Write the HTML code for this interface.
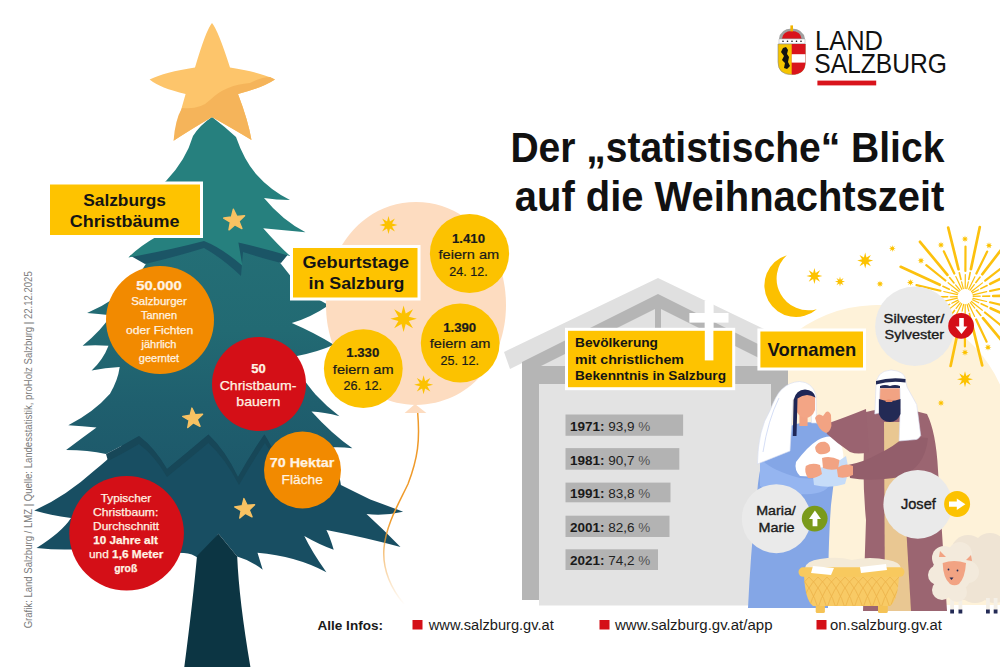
<!DOCTYPE html>
<html><head><meta charset="utf-8">
<style>
html,body{margin:0;padding:0;background:#fff;width:1000px;height:667px;overflow:hidden}
svg{display:block}
text{font-family:"Liberation Sans",sans-serif}
.b{font-weight:bold}
</style></head><body>
<svg width="1000" height="667" viewBox="0 0 1000 667">
<defs>
<linearGradient id="tg2" x1="0" y1="0" x2="0" y2="1">
<stop offset="0" stop-color="#246f76"/><stop offset="0.4" stop-color="#226a73"/><stop offset="0.7" stop-color="#1f5f6e"/><stop offset="1" stop-color="#1d586a"/>
</linearGradient>
<g id="s8"><path d="M0,-10 L1.6,-3.9 L7.1,-7.1 L3.9,-1.6 L10,0 L3.9,1.6 L7.1,7.1 L1.6,3.9 L0,10 L-1.6,3.9 L-7.1,7.1 L-3.9,1.6 L-10,0 L-3.9,-1.6 L-7.1,-7.1 L-1.6,-3.9Z"/></g>
<g id="s5"><path d="M0.00,-10.50 L2.53,-3.48 L9.99,-3.24 L4.09,1.33 L6.17,8.49 L0.00,4.30 L-6.17,8.49 L-4.09,1.33 L-9.99,-3.24 L-2.53,-3.48Z" stroke="#f8c262" stroke-width="1.4" stroke-linejoin="round"/></g>
</defs>

<!-- ===== TREE ===== -->
<g id="tree">
<!-- tier 3 -->
<path d="M120,448 Q105,462 95,470 Q65,497 34.2,510.5 Q50,515 71,518 Q62,532 36.5,548 Q55,550 71,549.5 L184,553 Q192,553 199.5,559 L218.5,533.7 L237.2,556.4 Q250,560 262.7,569.7 L257.5,552.8 Q296,556 326.4,572.3 Q312,552 304.3,536 Q320,545 333.7,549.7 Q330,537 326.4,530 Q368,538 400.5,547.1 Q384,530 366.5,514 Q385,516 403.1,511.7 Q385,505 370.3,499.6 Q355,492 340.9,485 L335,450 L300,400 L150,400 Z" fill="#184e62"/>
<!-- trunk -->
<path d="M218.5,533.7 L237.2,556.4 Q239,600 250.4,667 L184.3,667 Q193,600 197,556 Z" fill="#0c3543"/>
<!-- tier 2 -->
<path d="M215,232 L270,250 L300,288 Q315,298 328.8,305.3 Q310,318 291.8,323 Q315,333 333.9,344.8 Q318,352 297,356 L301,376 Q310,388 315.5,394.5 Q326,406 339.5,416.2 Q324,412 311.5,411.5 Q332.5,434.6 352.4,448.2 Q343,447 334.6,447.2 L300,452 L271,446 Q268,440 264.4,434.5 Q250,455 238,477 Q225,450 208.4,434.6 Q188,452 167,469 Q155,448 139,436 Q122,446 106,454 Q88,450 66.1,450 Q82,438 96.5,427.5 Q82,426 68.3,425.2 Q94,412 110,393.7 Q118,380 119.7,367 Q105,368 91.6,370.4 Q103,360 108.5,345.7 Q95,345 82.6,345.7 Q102,330 110.7,315.3 Q98,314 87.1,313.1 Q117,300 135.5,280.5 Q142,270 146.7,262.5 Z" fill="url(#tg2)"/>
<!-- tier2 bottom shadows -->
<path d="M106,454 Q122,446 139,436 Q155,448 167,469 Q188,452 208.4,434.6 Q225,450 238,477 Q250,455 264.4,434.5 Q268,440 271,446 L272,454 Q268,448 265,443 Q252,462 239,485 Q225,458 208.4,443 Q188,460 167,477 Q155,456 139,444 Q122,454 108,461 Z" fill="#174758"/>
<!-- tier1 shadow -->
<path d="M130,255.5 Q170,247 204,238 Q222,247 241,262 L236,240 Q262,245 288,254.5 L281,263 Q262,258 243,252 L241,276 Q222,258 204,248 Q175,257 145,264 Z" fill="#1b5566"/>
<!-- tier 1 -->
<path d="M212,117 Q224,126 236,137 Q244,160 256,174 Q270,190 290,200 Q276,200 264,198 Q282,220 305.5,232.3 Q284,230 263.2,228.2 Q278,245 290.4,256.2 Q262,248 238.4,242.6 L242.4,265.8 Q222,248 204,241 Q170,250 128.3,257.5 Q140,246 156,237 L120,215 L166,181 Q186,160 193,136 Q200,125 212,117 Z" fill="#26807e"/>
<!-- top star -->
<path d="M212,23 Q218,30 230,67.5 Q260,72 275,79.5 Q262,88 238,94 Q248,120 251.5,140 Q235,130 212,117 Q190,130 173.6,140.7 Q178,120 185.6,94 Q160,88 149.6,79.5 Q165,72 195,67.5 Q206,30 212,23Z" fill="#fdc56b"/>
<path d="M275,79.5 Q262,88 238,94 Q248,120 251.5,140 Q235,130 212,117 Q190,130 173.6,140.7 Q175,120 182,108 Q200,110 210,100 Q225,85 250,83 Q262,77 270,77Z" fill="#f5b45a"/>
<!-- tree stars -->
<use href="#s5" fill="#f8c262" transform="translate(234.5,220.3) rotate(-6) scale(1.05)"/>
<use href="#s5" fill="#f8c262" transform="translate(193,418.5) rotate(-6) scale(1.0)"/>
<use href="#s5" fill="#f8c262" transform="translate(245,509) rotate(-6) scale(1.0)"/>
</g>

<!-- circles on tree -->
<circle cx="160" cy="320" r="54" fill="#f28a00"/>
<circle cx="259" cy="384" r="47" fill="#d40f17"/>
<circle cx="302.5" cy="470" r="38.5" fill="#f28a00"/>
<circle cx="126.6" cy="533.3" r="57.3" fill="#d40f17"/>


<!-- tree circle texts -->
<g fill="#fff3e3" text-anchor="middle" stroke="#fff3e3" stroke-width="0.25">
<text x="159" y="289.5" class="b" font-size="13" textLength="45.4" lengthAdjust="spacingAndGlyphs">50.000</text>
<text x="159" y="305" font-size="11" textLength="55.6" lengthAdjust="spacingAndGlyphs">Salzburger</text>
<text x="159" y="319.2" font-size="11">Tannen</text>
<text x="159.7" y="333.5" font-size="11" textLength="67.2" lengthAdjust="spacingAndGlyphs">oder Fichten</text>
<text x="159" y="347.6" font-size="11">jährlich</text>
<text x="159" y="361.6" font-size="11">geerntet</text>

<text x="258.4" y="372.8" class="b" font-size="13">50</text>
<text x="258" y="389.7" font-size="13" textLength="76.7" lengthAdjust="spacingAndGlyphs">Christbaum-</text>
<text x="258.3" y="406.1" font-size="13" textLength="43.9" lengthAdjust="spacingAndGlyphs">bauern</text>

<text x="302" y="466.6" class="b" font-size="13.5" textLength="64.5" lengthAdjust="spacingAndGlyphs">70 Hektar</text>
<text x="302.2" y="484.4" font-size="13.5" textLength="41.2" lengthAdjust="spacingAndGlyphs">Fläche</text>

<text x="126" y="501.9" font-size="11.5" textLength="50.6" lengthAdjust="spacingAndGlyphs">Typischer</text>
<text x="125.7" y="515.5" font-size="11.5" textLength="65.2" lengthAdjust="spacingAndGlyphs">Christbaum:</text>
<text x="126.1" y="529.6" font-size="11.5" textLength="66" lengthAdjust="spacingAndGlyphs">Durchschnitt</text>
<text x="125.5" y="544" class="b" font-size="11.5" textLength="64.7" lengthAdjust="spacingAndGlyphs">10 Jahre alt</text>
<text x="126.2" y="558" font-size="11.5" textLength="74.4" lengthAdjust="spacingAndGlyphs">und <tspan class="b">1,6 Meter</tspan></text>
<text x="125.7" y="572.1" class="b" font-size="11.5" textLength="23.1" lengthAdjust="spacingAndGlyphs">groß</text>
</g>

<!-- label Salzburgs Christbaeume -->
<rect x="48.5" y="183" width="153" height="53.5" fill="#fec300" stroke="#fff" stroke-width="3"/>
<g fill="#141414" text-anchor="middle" class="b">
<text x="124.6" y="205.6" font-size="17" textLength="82.8" lengthAdjust="spacingAndGlyphs">Salzburgs</text>
<text x="124.6" y="226.7" font-size="17" textLength="109.8" lengthAdjust="spacingAndGlyphs">Christbäume</text>
</g>

<!-- balloon -->
<path d="M416,202 C470,202 506,250 506,305 C506,360 470,404 416,405 C362,404 326,360 326,305 C326,250 362,202 416,202Z" fill="#fddcc0"/>
<path d="M415,404 L404.6,413 L426.4,413Z" fill="#fddcc0"/>
<linearGradient id="sg" gradientUnits="userSpaceOnUse" x1="0" y1="413" x2="0" y2="605"><stop offset="0" stop-color="#ef9a2a"/><stop offset="0.55" stop-color="#ef9a2a"/><stop offset="1" stop-color="#ef9a2a" stop-opacity="0"/></linearGradient><path d="M417.7,413 C420,440 418,458 408,484 C398,505 386,525 384,548 C382,570 392,590 404,604" fill="none" stroke="url(#sg)" stroke-width="1.5"/>
<g fill="#fcc200">
<use href="#s8" transform="translate(388.5,225) scale(0.9)"/>
<use href="#s8" transform="translate(403.6,318.8) scale(1.33)"/>
<use href="#s8" transform="translate(423.6,384.7) scale(0.95)"/>
</g>
<circle cx="469.5" cy="253.5" r="39.6" fill="#fcc200"/>
<circle cx="460.2" cy="343" r="39.4" fill="#fcc200"/>
<circle cx="363.3" cy="368.6" r="39.4" fill="#fcc200"/>
<g fill="#1a1a1a" text-anchor="middle" stroke="#1a1a1a" stroke-width="0.2">
<text x="468.5" y="242.8" class="b" font-size="13" textLength="33" lengthAdjust="spacingAndGlyphs">1.410</text>
<text x="468.9" y="258.9" font-size="13" textLength="60.7" lengthAdjust="spacingAndGlyphs">feiern am</text>
<text x="468.5" y="275.7" font-size="13" textLength="38.5" lengthAdjust="spacingAndGlyphs">24. 12.</text>
<text x="459.7" y="331.5" class="b" font-size="13" textLength="33" lengthAdjust="spacingAndGlyphs">1.390</text>
<text x="460.1" y="348.2" font-size="13" textLength="60.7" lengthAdjust="spacingAndGlyphs">feiern am</text>
<text x="459.7" y="364.9" font-size="13" textLength="38.5" lengthAdjust="spacingAndGlyphs">25. 12.</text>
<text x="362.8" y="356.8" class="b" font-size="13" textLength="33" lengthAdjust="spacingAndGlyphs">1.330</text>
<text x="363.2" y="373.9" font-size="13" textLength="60.7" lengthAdjust="spacingAndGlyphs">feiern am</text>
<text x="362.8" y="390.4" font-size="13" textLength="38.5" lengthAdjust="spacingAndGlyphs">26. 12.</text>
</g>

<!-- label Geburtstage -->
<rect x="291.5" y="246.5" width="127.5" height="52.5" fill="#fec300" stroke="#fff" stroke-width="3"/>
<g fill="#141414" text-anchor="middle" class="b">
<text x="355.75" y="267.8" font-size="16" textLength="106.5" lengthAdjust="spacingAndGlyphs">Geburtstage</text>
<text x="356.5" y="289.2" font-size="16" textLength="96" lengthAdjust="spacingAndGlyphs">in Salzburg</text>
</g>


<!-- title -->
<g fill="#111" class="b" text-anchor="end">
<text x="944.4" y="161.7" font-size="42.5" textLength="434" lengthAdjust="spacingAndGlyphs">Der „statistische“ Blick</text>
<text x="944.4" y="210.7" font-size="42.5" textLength="429.6" lengthAdjust="spacingAndGlyphs">auf die Weihnachtszeit</text>
</g>

<!-- logo -->
<g fill="#111">
<text x="815" y="49.6" font-size="27.2" textLength="68" lengthAdjust="spacingAndGlyphs">LAND</text>
<text x="814.3" y="72.9" font-size="27.2" textLength="132.7" lengthAdjust="spacingAndGlyphs">SALZBURG</text>
</g>
<rect x="817.4" y="80.6" width="58.8" height="4.8" fill="#d9141c"/>
<g id="shield">
<path d="M778,44 L805.4,44 L805.4,62 Q805.4,74.6 791.7,74.6 Q778,74.6 778,62 Z" fill="#f5c400" stroke="#888" stroke-width="0.6"/>
<path d="M791.7,44 L805.4,44 L805.4,62 Q805.4,74.6 791.7,74.6 Z" fill="#d9141c"/>
<rect x="791.7" y="54.2" width="13.7" height="8.4" fill="#fff"/>
<path d="M783,48 L786,47 L788,50 L787,54 L789,57 L788,62 L790,66 L787,69 L784,68 L785,63 L782,60 L784,56 L781,52 Z" fill="#111"/>
<path d="M779,39 L805,39 L805,43.5 L779,43.5Z" fill="#fff" stroke="#999" stroke-width="0.4"/>
<path d="M779,39 Q780,29 791.7,28.5 Q803.5,29 805,39Z" fill="#a0a0a0"/>
<path d="M782,38.5 Q783,31 791.7,31 Q800.5,31 801.5,38.5Z" fill="#d9141c"/>
<rect x="790.4" y="25.4" width="2.6" height="6" fill="#f0b400"/>
<circle cx="783" cy="41.2" r="0.8" fill="#111"/><circle cx="787.5" cy="41.2" r="0.8" fill="#111"/><circle cx="792" cy="41.2" r="0.8" fill="#111"/><circle cx="796.5" cy="41.2" r="0.8" fill="#111"/><circle cx="801" cy="41.2" r="0.8" fill="#111"/>
</g>

<!-- cream arch -->
<path d="M742,440 A135,135 0 0 1 1000,384.4 L1000,605 L742,605 Z" fill="#fef2d9"/>

<!-- barn -->
<path d="M504,352 L658,278 L812,352 L806,368 L658,296 L510,369 Z" fill="#e0e0e0"/>
<path d="M522,362 L658,294 L788,359 L788,600 L522,600 Z" fill="#b5b5b5"/>
<path d="M541,366 L658,307.5 L771,364 L771,366 Z" fill="#e1e1e1"/>
<rect x="655" y="300" width="6" height="66" fill="#b5b5b5"/>
<rect x="539" y="384" width="232" height="221.5" fill="#e3e3e3"/>
<!-- cross -->
<rect x="704.8" y="301" width="8.6" height="59.4" fill="#fff"/>
<rect x="689.4" y="313" width="39.1" height="9.6" fill="#fff"/>

<!-- Bevoelkerung label -->
<rect x="566.5" y="329.3" width="167.2" height="59.4" fill="#fec300" stroke="#fff" stroke-width="3"/>
<rect x="704.8" y="301" width="8.6" height="59.4" fill="#fff"/>
<g fill="#141414" class="b" font-size="13">
<text x="575" y="347.4" textLength="83" lengthAdjust="spacingAndGlyphs">Bevölkerung</text>
<text x="575" y="364.2" textLength="109" lengthAdjust="spacingAndGlyphs">mit christlichem</text>
<text x="575" y="380.4" textLength="151" lengthAdjust="spacingAndGlyphs">Bekenntnis in Salzburg</text>
</g>

<!-- bars -->
<g fill="#b3b3b3">
<rect x="565.5" y="414.5" width="117.6" height="21.3"/>
<rect x="565.5" y="448.1" width="113.8" height="21.6"/>
<rect x="565.5" y="482.6" width="105" height="19.7"/>
<rect x="565.5" y="515.7" width="104" height="21.3"/>
<rect x="565.5" y="549.3" width="92.5" height="20.7"/>
</g>
<g fill="#1a1a1a" font-size="13.5">
<text x="570" y="430.9"><tspan class="b">1971:</tspan> <tspan fill="#222">93,9</tspan> <tspan fill="#555">%</tspan></text>
<text x="570" y="464.5"><tspan class="b">1981:</tspan> <tspan fill="#222">90,7</tspan> <tspan fill="#555">%</tspan></text>
<text x="570" y="498.1"><tspan class="b">1991:</tspan> <tspan fill="#222">83,8</tspan> <tspan fill="#555">%</tspan></text>
<text x="570" y="532"><tspan class="b">2001:</tspan> <tspan fill="#222">82,6</tspan> <tspan fill="#555">%</tspan></text>
<text x="570" y="565.3"><tspan class="b">2021:</tspan> <tspan fill="#222">74,2</tspan> <tspan fill="#555">%</tspan></text>
</g>

<!-- Vornamen label -->
<rect x="758.9" y="330" width="105.6" height="39" fill="#fec300" stroke="#fff" stroke-width="3"/>
<text x="767.6" y="356.4" fill="#141414" class="b" font-size="19" textLength="88.7" lengthAdjust="spacingAndGlyphs">Vornamen</text>


<!-- moon -->
<path d="M786.8,255.2 A31.6,31.6 0 1 0 816.8,309.2 A31.8,31.8 0 0 1 786.8,255.2Z" fill="#fcc000"/>
<g fill="#fcc200">
<use href="#s8" transform="translate(814.4,276) scale(0.8)"/>
<use href="#s8" transform="translate(840,281.6) scale(0.5)"/>
<use href="#s8" transform="translate(865.2,260.6) scale(0.8)"/>
<use href="#s8" transform="translate(892.3,248.5) scale(0.35)"/>
<use href="#s8" transform="translate(880,283.9) scale(0.35)"/>
<use href="#s8" transform="translate(910.4,282.4) scale(0.35)"/>
<use href="#s8" transform="translate(921,260.7) scale(0.35)"/>
<use href="#s8" transform="translate(941,245) scale(0.35)"/>
<use href="#s8" transform="translate(965,239) scale(0.35)"/>
<use href="#s8" transform="translate(989,245.5) scale(0.35)"/>
<use href="#s8" transform="translate(988,347.3) scale(0.35)"/>
<use href="#s8" transform="translate(965,352.4) scale(0.35)"/>
<use href="#s8" transform="translate(965,379.2) scale(0.8)"/>
<use href="#s8" transform="translate(941,403) scale(0.35)"/>
</g>
<path d="M957.9,293.2L951.6,290.2M957.4,294.7L943.8,291.5M960.1,290.3L955.6,284.9M959.0,291.5L948.1,282.7M963.3,288.7L961.6,281.9M961.8,289.3L955.8,276.6M966.8,288.7L968.3,281.8M965.2,288.5L965.3,274.5M970.1,290.2L974.3,284.6M968.7,289.3L974.9,276.7M972.3,292.9L978.6,289.8M971.5,291.5L982.5,282.9M973.2,296.4L980.2,296.2M973.0,294.8L986.7,291.7M972.5,299.8L978.8,302.8M973.0,298.3L986.6,301.5M970.3,302.7L974.8,308.1M971.4,301.5L982.3,310.3M967.1,304.3L968.8,311.1M968.6,303.7L974.6,316.4M963.6,304.3L962.1,311.2M965.2,304.5L965.1,318.5M960.3,302.8L956.1,308.4M961.7,303.7L955.5,316.3M958.1,300.1L951.8,303.2M958.9,301.5L947.9,310.1M957.2,296.6L950.2,296.8M957.4,298.2L943.7,301.3" stroke="#fcc10e" stroke-width="1.2" stroke-linecap="round" fill="none"/><path d="M949.3,289.2L942.9,286.3M954.0,283.0L949.6,277.6M961.0,279.5L959.3,272.7M968.8,279.4L970.2,272.5M975.9,282.6L980.1,277.1M980.8,288.6L987.1,285.5M982.7,296.2L989.7,296.1M981.1,303.8L987.5,306.7M976.4,310.0L980.8,315.4M969.4,313.5L971.1,320.3M961.6,313.6L960.2,320.5M954.5,310.4L950.3,315.9M949.6,304.4L943.3,307.5M947.7,296.8L940.7,296.9" stroke="#fcc10e" stroke-width="1.6" stroke-linecap="round" fill="none"/><path d="M940.4,290.7L916.5,285.1M945.4,280.5L926.3,265.1M954.3,273.5L943.8,251.3M965.4,271.0L965.5,246.5M976.4,273.6L987.2,251.6M985.2,280.7L1004.5,265.6M990.1,291.0L1014.0,285.7M990.0,302.3L1013.9,307.9M985.0,312.5L1004.1,327.9M976.1,319.5L986.6,341.7M965.0,322.0L964.9,346.5M954.0,319.4L943.2,341.4M945.2,312.3L925.9,327.4M940.3,302.0L916.4,307.3" stroke="#fcc10e" stroke-width="2.2" stroke-linecap="round" fill="none"/><path d="M939.8,284.8L900.7,266.8M947.4,274.9L920.0,241.8M958.5,269.3L948.2,227.6M970.9,269.1L979.8,227.0M982.3,274.3L1008.5,240.2M990.2,283.9L1028.6,264.6M993.2,296.0L1036.2,295.2M990.6,308.2L1029.7,326.2M983.0,318.1L1010.4,351.2M971.9,323.7L982.2,365.4M959.5,323.9L950.6,366.0M948.1,318.7L921.9,352.8M940.2,309.1L901.8,328.4M937.2,297.0L894.2,297.8" stroke="#fcc10e" stroke-width="2.7" stroke-linecap="round" fill="none"/>
<circle cx="965.2" cy="296.5" r="6" fill="#fff"/>

<!-- ===== MARY ===== -->
<path d="M796,424 Q814,419 828,428 Q836,442 835,472 L831,505 Q828,545 828,608 L748,608 Q751,545 757,495 Q759,462 770,440 Q782,428 796,424Z" fill="#84a6e6"/>
<path d="M760,458 Q770,470 800,478 L832,480 Q828,496 800,494 Q772,492 760,486Z" fill="#95b5f0"/>
<path d="M799.4,381.5 Q812,382 816,394.7 L816.5,423 L811.5,423 L811,398 Q804,391 796,396 L793,400 L790,451 L757.4,464 Q758,430 769.7,411.2 Q776,395 781.3,389.8 Q789,382 799.4,381.5 Z" fill="#fff" stroke="#d5dcf0" stroke-width="0.6"/>
<path d="M779,398 Q768,420 763,452" stroke="#b9c8f0" stroke-width="0.6" fill="none"/>
<rect x="799.4" y="412" width="8.2" height="14" fill="#f2a383"/>
<path d="M795.5,397 Q805,390.5 815,396 L815,410 Q812,418 805,418 Q797,416 795.5,408 Z" fill="#f3a585"/>
<path d="M793.6,400 Q796,389.5 805,389.5 Q814,390 815.5,397.5 Q806,392 797.5,398.5 L796.5,436 L792.8,436 Z" fill="#1e2656"/>
<!-- baby -->
<path d="M796,462 Q808,446 818,440 Q828,434 836,438 Q845,446 843,462 Q842,474 836,478 L800,476 Q794,470 796,462Z" fill="#fff"/>
<path d="M812,468 Q828,470 846,456 Q850,470 845,484 Q830,489 814,485Z" fill="#c6dcf8"/>
<path d="M815.2,447 Q818,441 825,441.8 Q831,444 830,451 Q826,455 819,454 Q815,452 815.2,447Z" fill="#f2a383"/>
<path d="M805.8,466 Q812,462 820,465 L822,474 Q816,479 808,478 Q804,472 805.8,466Z" fill="#f2a383"/>
<!-- ===== JOSEPH ===== -->
<path d="M866,412 Q895,404 927,414 Q936,432 938,470 L947,611 L863,611 L866,520 Q861,470 866,412Z" fill="#9b6571"/>
<path d="M884,422 L900,422 L911,611 L885,611Z" fill="#e9c792"/>
<path d="M829,423 Q846,417 866,409 L869,452 Q858,455 850,452 Q838,444 826.7,433.7Z" fill="#9a6370"/>
<path d="M815,418 Q818,412 823,416 L826,412 Q829,410 831,415 L831.4,426 Q830,432 826,433 Q818,430 815,418Z" fill="#f2a383"/>
<path d="M928,438 Q925,468 900,477 Q870,482 850,478 L848,465 Q864,462 878,454 Q895,446 905,436Z" fill="#935e6b"/>
<path d="M822,458 Q830,455 839.5,460 L838,469 Q830,471 823,468Z" fill="#f2a383"/>
<path d="M836.8,468 Q845,462 853,466 L853,475 Q845,479 838,477Z" fill="#f2a383"/>
<rect x="879" y="383" width="21" height="20" fill="#f2a383"/>
<path d="M876,386 Q876,371 891,370 Q905,371 905.5,380 L907,387 L916.7,404.5 L920.7,435.6 Q918,440 915.3,439.6 L899.1,441 L900.5,400.5 L900,388 L880,388 L879,413 L874.8,414 Z" fill="#fff" stroke="#d8dcf0" stroke-width="0.6"/>
<path d="M876,381 Q890,377 905.5,379 L905.5,382.5 Q890,380.5 876,384.5Z" fill="#232a55"/>
<path d="M880,386 Q885,384 890,386 Q895,384 900,386 L900,388 L880,388Z" fill="#232a55"/>
<path d="M878.9,399 Q890,403 900.5,399 L900.5,414 Q897,422 890,422.1 Q882,422 878.9,414Z" fill="#232a55"/>
<path d="M885,400.5 Q889,398.5 893,400.5 L892,402 L886,402Z" fill="#e58a6a"/>

<!-- basket -->
<path d="M805,568 Q806,561 820,559 Q838,556 852,560 Q870,556 888,560 Q900,562 901,568Z" fill="#f4ead7"/>
<rect x="815.7" y="603" width="9.2" height="10" rx="1.5" fill="#f5c356"/>
<rect x="878" y="603" width="9.8" height="10" rx="1.5" fill="#f5c356"/>
<path d="M804,575 L899,575 Q898,600 890,606 L813,606 Q805,600 804,575Z" fill="#f8ca65"/>
<clipPath id="bk"><path d="M804,575 L899,575 Q898,600 890,606 L813,606 Q805,600 804,575Z"/></clipPath><path clip-path="url(#bk)" d="M746,577 Q758,588 764,608 M764,577 Q752,588 746,608 M755,577 Q767,588 773,608 M773,577 Q761,588 755,608 M764,577 Q776,588 782,608 M782,577 Q770,588 764,608 M773,577 Q785,588 791,608 M791,577 Q779,588 773,608 M782,577 Q794,588 800,608 M800,577 Q788,588 782,608 M791,577 Q803,588 809,608 M809,577 Q797,588 791,608 M800,577 Q812,588 818,608 M818,577 Q806,588 800,608 M809,577 Q821,588 827,608 M827,577 Q815,588 809,608 M818,577 Q830,588 836,608 M836,577 Q824,588 818,608 M827,577 Q839,588 845,608 M845,577 Q833,588 827,608 M836,577 Q848,588 854,608 M854,577 Q842,588 836,608 M845,577 Q857,588 863,608 M863,577 Q851,588 845,608 M854,577 Q866,588 872,608 M872,577 Q860,588 854,608 M863,577 Q875,588 881,608 M881,577 Q869,588 863,608 M872,577 Q884,588 890,608 M890,577 Q878,588 872,608 M881,577 Q893,588 899,608 M899,577 Q887,588 881,608 M890,577 Q902,588 908,608 M908,577 Q896,588 890,608 M899,577 Q911,588 917,608 M917,577 Q905,588 899,608 M908,577 Q920,588 926,608 M926,577 Q914,588 908,608 M917,577 Q929,588 935,608 M935,577 Q923,588 917,608 M926,577 Q938,588 944,608 M944,577 Q932,588 926,608 M935,577 Q947,588 953,608 M953,577 Q941,588 935,608" stroke="#ecb24a" stroke-width="0.8" fill="none"/>
<rect x="798.5" y="567.3" width="106" height="9.5" rx="4.7" fill="#f8c95e"/>
<path d="M813,566 L834,568 L831,575 L811,573Z" fill="#fff"/>
<path d="M860,567 L886,564 L887,570 L861,573Z" fill="#fff"/>

<!-- sheep -->
<g fill="#efe4d4">
<circle cx="968" cy="552" r="17"/><circle cx="990" cy="550" r="17"/><circle cx="975" cy="585" r="18"/><circle cx="995" cy="585" r="18"/>
<rect x="960" y="545" width="40" height="55"/>
</g>
<rect x="950.2" y="598" width="3.8" height="12" fill="#f4efe6"/><rect x="958.5" y="598" width="3.8" height="12" fill="#f4efe6"/>
<rect x="986" y="598" width="3.8" height="12" fill="#f4efe6"/><rect x="993.7" y="598" width="3.8" height="12" fill="#f4efe6"/>
<rect x="950.2" y="609.5" width="3.8" height="4" fill="#232a55"/><rect x="958.5" y="609.5" width="3.8" height="4" fill="#232a55"/>
<rect x="986" y="609.5" width="3.8" height="4" fill="#232a55"/><rect x="993.7" y="609.5" width="3.8" height="4" fill="#232a55"/>
<g fill="#f3eadc">
<circle cx="944" cy="558" r="12"/><circle cx="960" cy="554" r="12"/><circle cx="938" cy="575" r="10"/><circle cx="968" cy="572" r="11"/>
<circle cx="942" cy="590" r="10"/><circle cx="957" cy="592" r="10"/><circle cx="952" cy="573" r="20"/>
</g>
<path d="M942.7,563 Q954,559 966,563 Q965,578 959,584 Q954.5,586.5 950,584 Q943,578 942.7,563Z" fill="#f2a383"/>
<path d="M940,551 L946,557 L939,557Z M971,555 L966,560 L972,561Z" fill="#f2a383"/>
<path d="M949.5,577.5 L953.5,577.5 L951.5,580Z" fill="#232a55"/>
<circle cx="948.5" cy="569.5" r="0.9" fill="#232a55"/><circle cx="957.5" cy="570.5" r="0.9" fill="#232a55"/>

<!-- name circles -->
<circle cx="914.9" cy="326.2" r="39.8" fill="#eaeaea"/>
<circle cx="776.3" cy="518.7" r="34.5" fill="#eaeaea"/>
<circle cx="917.8" cy="504.3" r="34.4" fill="#eaeaea"/>
<g fill="#1a1a1a" text-anchor="middle" stroke="#1a1a1a" stroke-width="0.35">
<text x="913.9" y="322.9" font-size="12.6" textLength="60.7" lengthAdjust="spacingAndGlyphs">Silvester/</text>
<text x="914.3" y="339.4" font-size="12.6" textLength="59.4" lengthAdjust="spacingAndGlyphs">Sylvester</text>
<text x="776" y="515.4" font-size="12.6" textLength="39.6" lengthAdjust="spacingAndGlyphs">Maria/</text>
<text x="776.6" y="532.2" font-size="12.6" textLength="36" lengthAdjust="spacingAndGlyphs">Marie</text>
<text x="918.4" y="509.4" font-size="14" textLength="34.8" lengthAdjust="spacingAndGlyphs">Josef</text>
</g>
<circle cx="961.1" cy="325.9" r="12.9" fill="#d40f17"/>
<path d="M959.2,318 L963.8,318 L963.8,326.6 L967.4,326.6 L961.5,334 L955.4,326.6 L959.2,326.6Z" fill="#fff"/>
<circle cx="814.7" cy="518.6" r="12.9" fill="#7a9a1a"/>
<path d="M814.9,510.6 L821,519 L817.4,519 L817.4,526.2 L812.6,526.2 L812.6,519 L809,519Z" fill="#fff"/>
<circle cx="957.1" cy="504" r="13" fill="#fcc200"/>
<path d="M949,501.6 L956.8,501.6 L956.8,498.6 L965.4,504.2 L956.8,510 L956.8,506.8 L949,506.8Z" fill="#fff"/>

<!-- footer -->
<g font-size="14" fill="#1a1a1a">
<text x="317.5" y="630" class="b" font-size="13.5" textLength="65.5" lengthAdjust="spacingAndGlyphs">Alle Infos:</text>
<rect x="412.5" y="620" width="10" height="9.5" fill="#d40f17"/>
<text x="428.75" y="630" textLength="125" lengthAdjust="spacingAndGlyphs">www.salzburg.gv.at</text>
<rect x="599.5" y="620" width="10" height="9.5" fill="#d40f17"/>
<text x="615" y="630" textLength="157.5" lengthAdjust="spacingAndGlyphs">www.salzburg.gv.at/app</text>
<rect x="816.5" y="620" width="10" height="9.5" fill="#d40f17"/>
<text x="830" y="630" textLength="112" lengthAdjust="spacingAndGlyphs">on.salzburg.gv.at</text>
</g>

<!-- vertical source -->
<text transform="translate(31.8,628.3) rotate(-90)" fill="#7a7a7a" font-size="11" textLength="357" lengthAdjust="spacingAndGlyphs">Grafik: Land Salzburg / LMZ  |  Quelle: Landesstatistik, proHolz Salzburg  |  22.12.2025</text>

</svg>
</body></html>
